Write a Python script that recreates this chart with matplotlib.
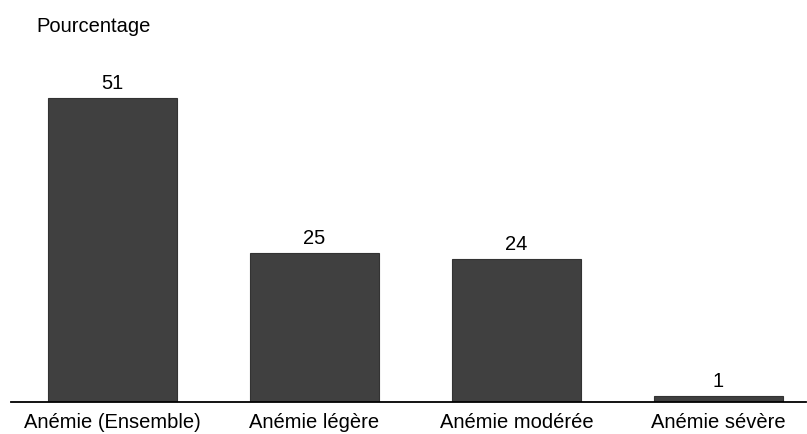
import matplotlib.pyplot as plt

categories = ['Anémie (Ensemble)', 'Anémie légère', 'Anémie modérée', 'Anémie sévère']
values = [51, 25, 24, 1]

plt.rcParams['font.family'] = ['Liberation Sans', 'DejaVu Sans']

W, H = 807, 435
fig = plt.figure(figsize=(W / 100, H / 100), dpi=100)

# axes placed in pixels: baseline at y=403, left edge 11, right edge 806
base_y = 403
top_y = 40
ax = fig.add_axes([11 / W, (H - base_y) / H, (806 - 11) / W, (base_y - top_y) / H])

x = range(len(categories))
bars = ax.bar(x, values, width=0.635, color='#404040', edgecolor='#333333', linewidth=0.8)

ax.set_xlim(-0.502, 3.433)
ax.set_ylim(0, (base_y - top_y) / 5.96)

fs = 14.5
for b, v in zip(bars, values):
    ax.annotate(str(v), (b.get_x() + b.get_width() / 2, v), xytext=(0, 4),
                textcoords='offset points', ha='center', va='bottom', fontsize=fs)

ax.set_xticks(list(x))
ax.set_xticklabels(categories, fontsize=fs)
ax.tick_params(axis='x', length=0, pad=7.5)
ax.set_yticks([])
for s in ['top', 'right', 'left']:
    ax.spines[s].set_visible(False)
ax.spines['bottom'].set_linewidth(1.3)

fig.text(36 / W, 1 - 27 / H, 'Pourcentage', ha='left', va='center', fontsize=fs)

fig.savefig('out.png', dpi=100)
